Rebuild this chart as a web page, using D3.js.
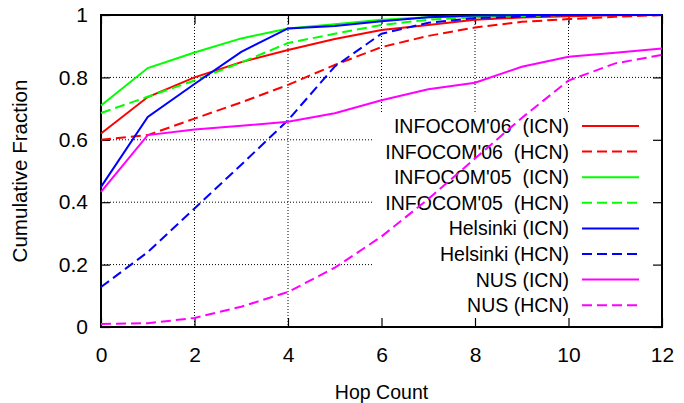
<!DOCTYPE html>
<html>
<head>
<meta charset="utf-8">
<script src="https://cdn.jsdelivr.net/npm/d3@7"></script>
<style>
  body { margin: 0; background: #fff; }
  svg text { font-family: "Liberation Sans", Arial, Helvetica, sans-serif; fill: #000; }
</style>
</head>
<body>
<div id="chart"></div>
<script>
// data
var hops = [0, 1, 2, 3, 4, 5, 6, 7, 8, 9, 10, 11, 12];
var xTicks = [0, 2, 4, 6, 8, 10, 12];
var yTicks = [0, 0.2, 0.4, 0.6, 0.8, 1];

var infocom06Icn = [0.62, 0.737, 0.80, 0.849, 0.888, 0.923, 0.952, 0.968, 0.985, 0.992, 0.996, 0.999, 1.0];
var infocom06Hcn = [0.60, 0.615, 0.668, 0.72, 0.776, 0.84, 0.897, 0.933, 0.96, 0.978, 0.987, 0.994, 1.0];
var infocom05Icn = [0.71, 0.83, 0.88, 0.925, 0.957, 0.97, 0.985, 0.993, 0.997, 1, 1, 1, 1];
var infocom05Hcn = [0.686, 0.738, 0.79, 0.848, 0.91, 0.94, 0.968, 0.985, 0.993, 0.997, 1, 1, 1];
var helsinkiIcn = [0.449, 0.673, 0.779, 0.882, 0.957, 0.965, 0.98, 0.993, 0.998, 1, 1, 1, 1];
var helsinkiHcn = [0.128, 0.24, 0.38, 0.52, 0.663, 0.835, 0.94, 0.975, 0.99, 0.995, 1, 1, 1];
var nusIcn = [0.433, 0.615, 0.633, 0.645, 0.658, 0.685, 0.727, 0.762, 0.783, 0.834, 0.866, 0.879, 0.893];
var nusHcn = [0.01, 0.012, 0.029, 0.065, 0.112, 0.19, 0.29, 0.41, 0.54, 0.67, 0.79, 0.845, 0.872];

var seriesNames = ["INFOCOM'06  (ICN)", "INFOCOM'06  (HCN)", "INFOCOM'05  (ICN)", "INFOCOM'05  (HCN)",
                   "Helsinki (ICN)", "Helsinki (HCN)", "NUS (ICN)", "NUS (HCN)"];
var seriesValues = [infocom06Icn, infocom06Hcn, infocom05Icn, infocom05Hcn, helsinkiIcn, helsinkiHcn, nusIcn, nusHcn];
var seriesColors = ["#ff0000", "#ff0000", "#00ff00", "#00ff00", "#0000ff", "#0000ff", "#ff00ff", "#ff00ff"];
var seriesDashed = [false, true, false, true, false, true, false, true];

var margin = {left: 101, top: 15, right: 22, bottom: 76},
    width = 684 - margin.left - margin.right,
    height = 403 - margin.top - margin.bottom;

var fontSize = "21px";
var squeeze = 0.93; // the original font runs a bit narrow

var svg = d3.select("#chart").append("svg")
    .attr("width", 684)
    .attr("height", 403);

var x = d3.scaleLinear().domain([0, 12]).range([0, width]);
var y = d3.scaleLinear().domain([0, 1]).range([height, 0]);

var g = svg.append("g")
    .attr("transform", "translate(" + margin.left + "," + margin.top + ")");

// dotted grid
g.selectAll(".vgrid")
    .data(xTicks.slice(1, -1))
  .enter().append("line")
    .attr("x1", function(d) { return x(d); })
    .attr("x2", function(d) { return x(d); })
    .attr("y1", 0).attr("y2", height)
    .attr("stroke", "#000").attr("stroke-width", 1)
    .attr("stroke-dasharray", "1,2");

g.selectAll(".hgrid")
    .data(yTicks.slice(1, -1))
  .enter().append("line")
    .attr("x1", 0).attr("x2", width)
    .attr("y1", function(d) { return y(d); })
    .attr("y2", function(d) { return y(d); })
    .attr("stroke", "#000").attr("stroke-width", 1)
    .attr("stroke-dasharray", "1,2");

// opaque key box hides the grid
g.append("rect")
    .attr("x", 272).attr("y", 98)
    .attr("width", width - 272).attr("height", height - 98)
    .attr("fill", "#fff");

// ticks, mirrored, pointing inward
var tickLen = 9;
g.append("g")
    .attr("transform", "translate(0," + height + ")")
    .call(d3.axisBottom(x).tickValues(xTicks).tickSize(-tickLen).tickPadding(20).tickFormat(d3.format("d")));
g.append("g")
    .call(d3.axisTop(x).tickValues(xTicks).tickSize(-tickLen).tickFormat(""));
g.append("g")
    .call(d3.axisLeft(y).tickValues(yTicks).tickSize(-tickLen).tickPadding(13)
      .tickFormat(function(d) { return d === 0 || d === 1 ? d3.format("d")(d) : d3.format(".1f")(d); }));
g.append("g")
    .attr("transform", "translate(" + width + ",0)")
    .call(d3.axisRight(y).tickValues(yTicks).tickSize(-tickLen).tickFormat(""));

g.selectAll(".domain").remove();
g.selectAll(".tick line").attr("stroke", "#000").attr("stroke-width", 1.2);
g.selectAll(".tick text").style("font-size", fontSize).attr("fill", "#000");

g.append("rect")
    .attr("width", width).attr("height", height)
    .attr("fill", "none").attr("stroke", "#000").attr("stroke-width", 2);

// axis titles
svg.append("text")
    .attr("transform", "translate(" + (margin.left + width / 2) + ",399) scale(" + squeeze + ",1)")
    .attr("text-anchor", "middle")
    .style("font-size", fontSize)
    .text("Hop Count");

svg.append("text")
    .attr("transform", "translate(27," + (margin.top + height / 2) + ") rotate(-90) scale(0.98,1)")
    .attr("text-anchor", "middle")
    .style("font-size", fontSize)
    .text("Cumulative Fraction");

// key
var key = g.selectAll(".key")
    .data(seriesNames)
  .enter().append("g")
    .attr("transform", function(d, i) { return "translate(0," + (111 + i * 25.6) + ")"; });

key.append("text")
    .attr("transform", "translate(468,7) scale(" + squeeze + ",1)")
    .attr("text-anchor", "end")
    .attr("xml:space", "preserve")
    .style("white-space", "pre")
    .style("font-size", fontSize)
    .text(function(d) { return d; });

key.append("line")
    .attr("x1", 481).attr("x2", 538)
    .attr("stroke", function(d, i) { return seriesColors[i]; })
    .attr("stroke-width", 2)
    .attr("stroke-dasharray", function(d, i) { return seriesDashed[i] ? "10,5" : null; });

// curves
var line = d3.line()
    .x(function(d, i) { return x(hops[i]); })
    .y(function(d) { return y(d); });

g.selectAll(".series")
    .data(seriesValues)
  .enter().append("path")
    .attr("d", line)
    .attr("fill", "none")
    .attr("stroke", function(d, i) { return seriesColors[i]; })
    .attr("stroke-width", 2)
    .attr("stroke-dasharray", function(d, i) { return seriesDashed[i] ? "10,5" : null; });
</script>
</body>
</html>
